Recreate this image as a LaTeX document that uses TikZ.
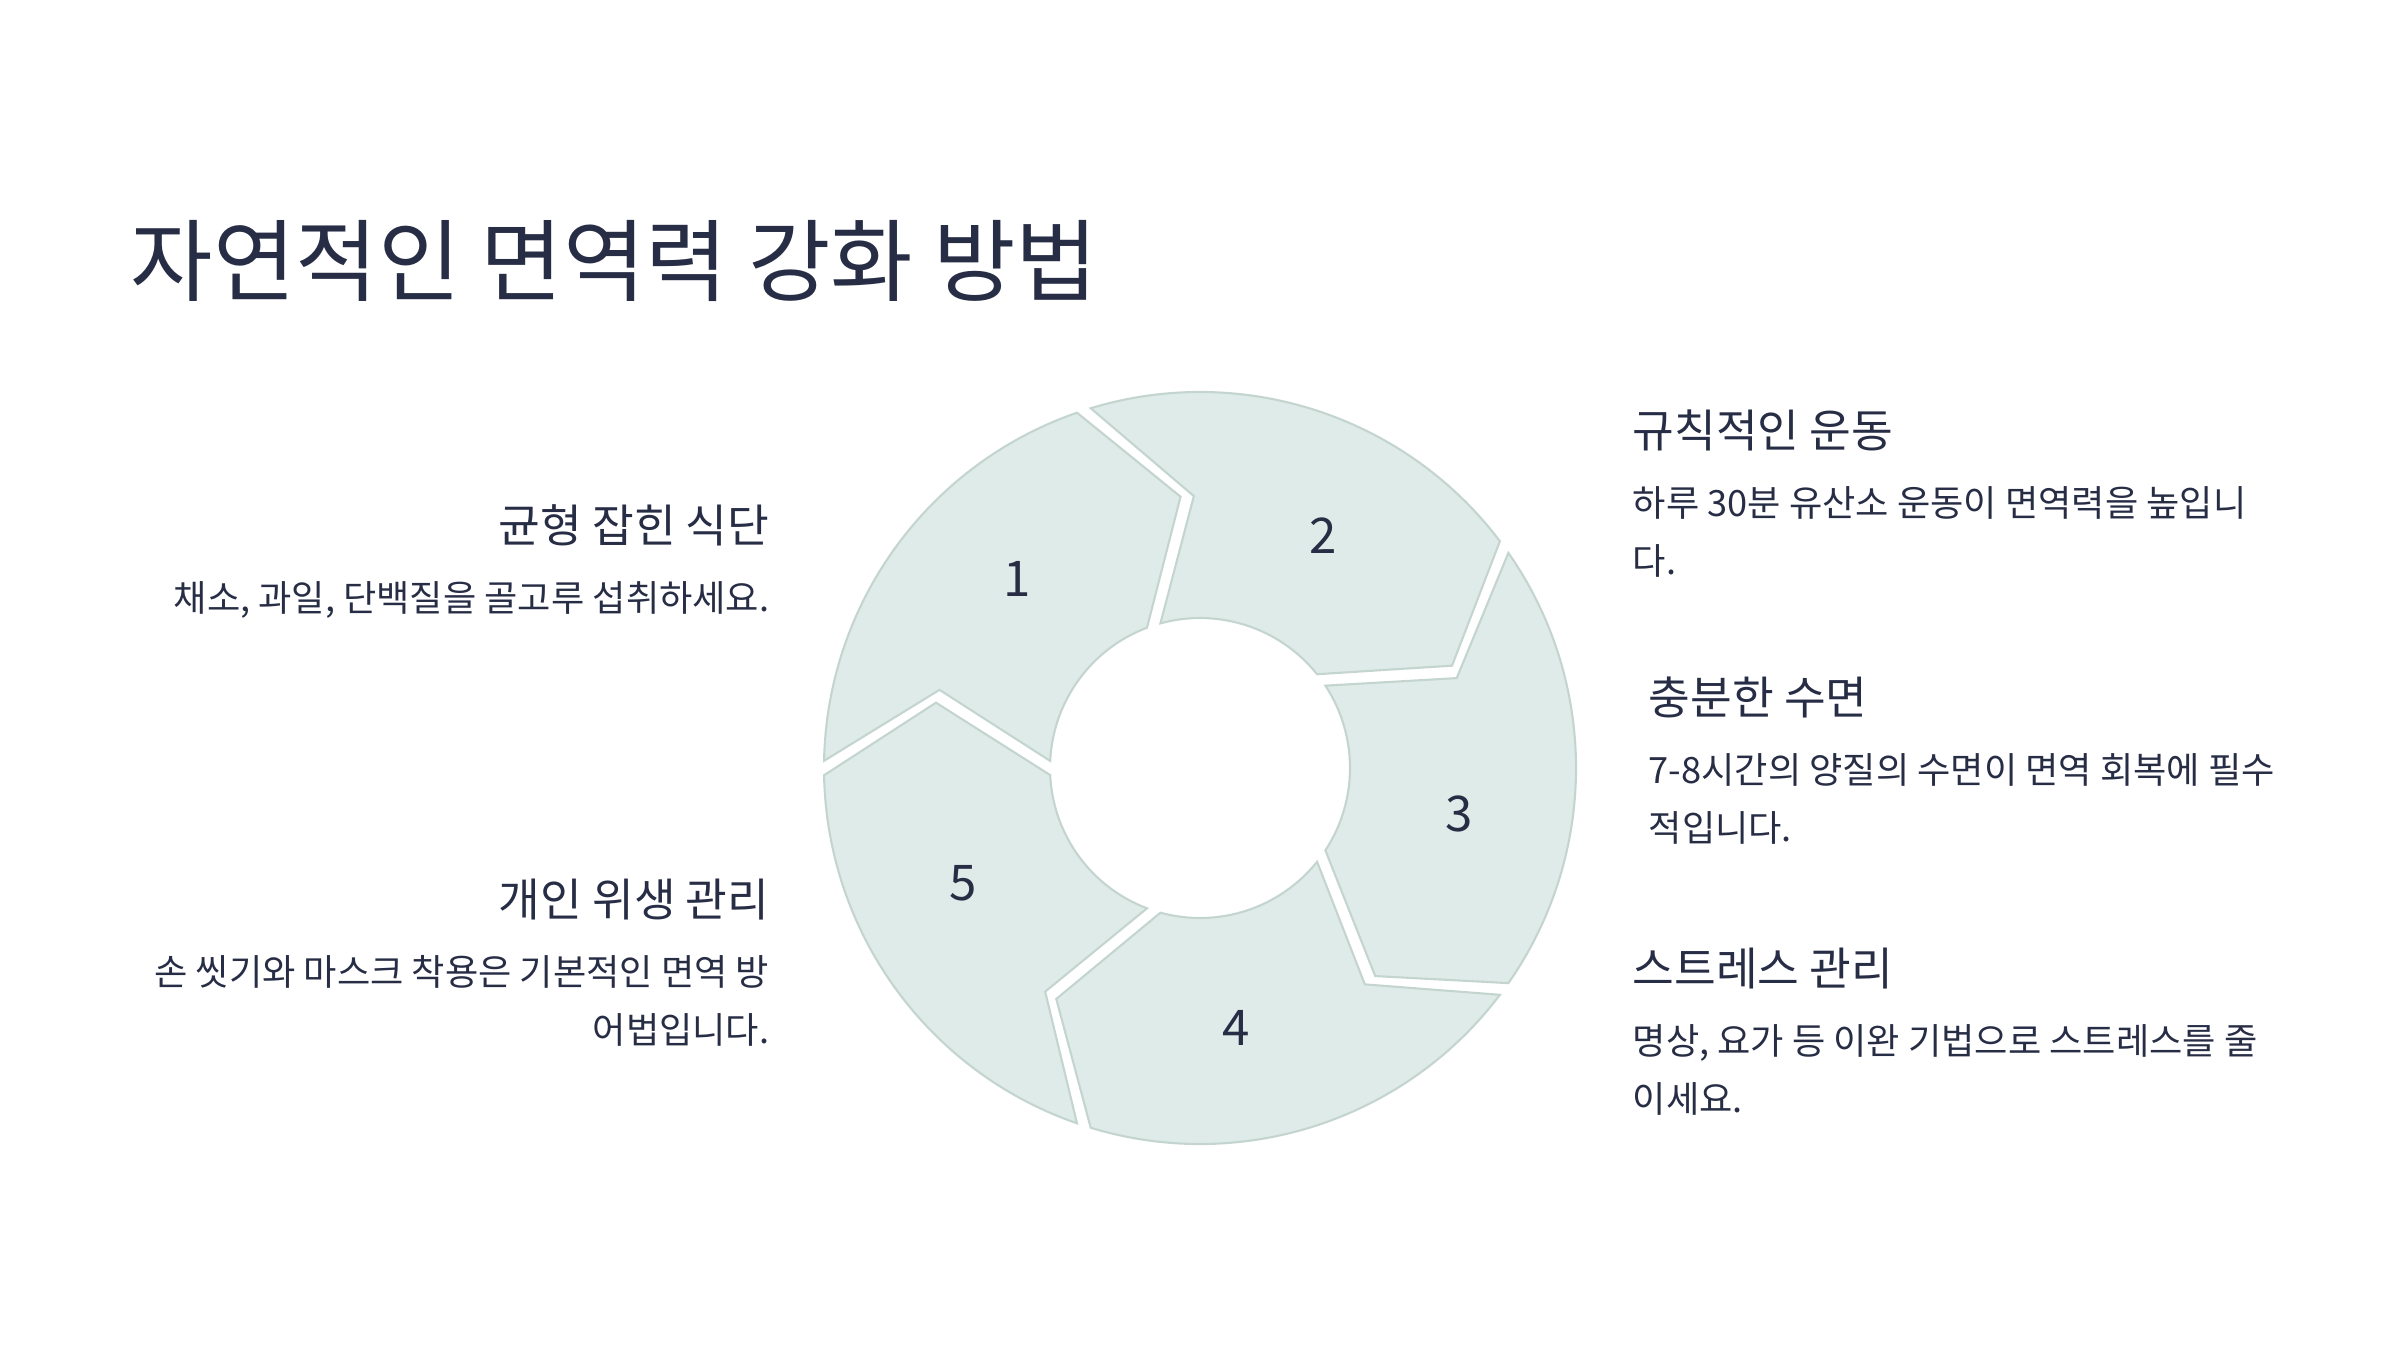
\documentclass[tikz,border=0pt]{standalone}
\usepackage{fontspec}
\setmainfont{Noto Sans CJK KR}
\usepackage{xcolor}
\usepackage{tikz}
\usetikzlibrary{positioning}

\definecolor{inkblue}{HTML}{272D45}
\definecolor{segfill}{HTML}{DFEBE8}
\definecolor{segline}{HTML}{C4D5CF}

\begin{document}
\begin{tikzpicture}[
    title/.style={anchor=base west, inner sep=0pt, text=inkblue, font=\fontsize{25.5}{30}\selectfont},
    head/.style={inner sep=0pt, text=inkblue, font=\fontsize{12.9}{15}\selectfont},
    desc/.style={inner sep=0pt, text=inkblue, font=\fontsize{10.3}{16.5}\selectfont},
    seg/.style={fill=segfill, draw=segline, line width=0.6pt},
    num/.style={text=inkblue, font=\fontsize{14}{16}\selectfont}
]
\useasboundingbox (0,0) rectangle (24,13.5);

% Title
\node[title] (title) at (1.30,10.56) {자연적인 면역력 강화 방법};

% Ring of five arrow segments
\begin{scope}[shift={(12,5.82)}]
\foreach \a/\n/\la in {180/1/134, 108/2/62, 36/3/-10, -36/4/-82, -108/5/-154}{
  \pgfmathsetmacro\b{\a-72}
  \draw[seg] (\a-1.1:3.76) arc[start angle=\a-1.1, end angle=\b+1.1, radius=3.76]
     -- (\b-15.3+1.4:2.72) -- (\b+2.7:1.5)
     arc[start angle=\b+2.7, end angle=\a-2.7, radius=1.5]
     -- (\a-15.3-1.4:2.72) -- cycle;
  \node[num] (n\n) at (\la:2.63) {\n};
}
\end{scope}

% Left side
\node[head, anchor=base east] (diet) at (7.70,8.075) {균형 잡힌 식단};
\node[desc, anchor=base east, align=right] (dietd) at ([yshift=-0.69cm]diet.base east) {채소, 과일, 단백질을 골고루 섭취하세요.};

\node[head, anchor=base east] (hygiene) at (7.70,4.34) {개인 위생 관리};
\node[desc, anchor=base east, align=right] (hygiened) at ([yshift=-1.27cm]hygiene.base east) {손 씻기와 마스크 착용은 기본적인 면역 방\\어법입니다.};

% Right side
\node[head, anchor=base west] (exercise) at (16.32,9.03) {규칙적인 운동};
\node[desc, anchor=base west, align=left] (exercised) at ([yshift=-1.27cm]exercise.base west) {하루 30분 유산소 운동이 면역력을 높입니\\다.};

\node[head, anchor=base west] (sleep) at (16.48,6.36) {충분한 수면};
\node[desc, anchor=base west, align=left] (sleepd) at ([yshift=-1.27cm]sleep.base west) {7-8시간의 양질의 수면이 면역 회복에 필수\\적입니다.};

\node[head, anchor=base west] (stress) at (16.32,3.65) {스트레스 관리};
\node[desc, anchor=base west, align=left] (stressd) at ([yshift=-1.27cm]stress.base west) {명상, 요가 등 이완 기법으로 스트레스를 줄\\이세요.};

\end{tikzpicture}
\end{document}
